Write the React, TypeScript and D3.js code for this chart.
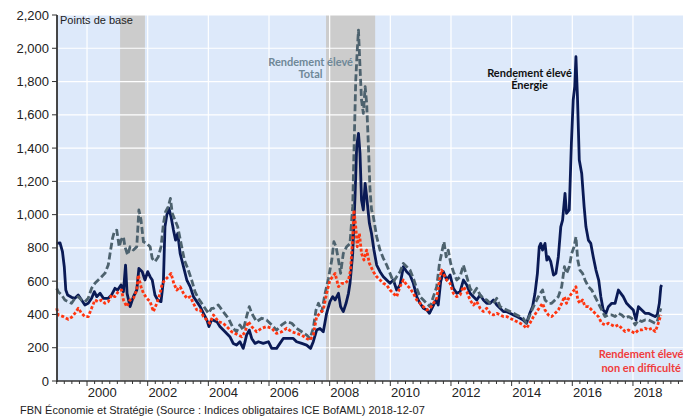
import React from "react";
import * as d3 from "d3";

type Pt = [number, number];

const yTicks = [0, 200, 400, 600, 800, 1000, 1200, 1400, 1600, 1800, 2000, 2200];
const yearLabels = [2000, 2002, 2004, 2006, 2008, 2010, 2012, 2014, 2016, 2018];
const recessions: Pt[] = [
  [2001.09, 2001.91],
  [2007.88, 2009.5],
];

const energy: Pt[] = [
  [1999.0, 827], [1999.11, 830], [1999.19, 777], [1999.25, 687], [1999.3, 547], [1999.36, 517],
  [1999.49, 503], [1999.6, 497], [1999.71, 517], [1999.82, 487], [1999.93, 457], [2000.04, 467],
  [2000.15, 497], [2000.24, 537], [2000.32, 507], [2000.43, 527], [2000.54, 497], [2000.7, 497],
  [2000.81, 517], [2000.92, 557], [2001.01, 547], [2001.12, 577], [2001.2, 537], [2001.27, 697],
  [2001.32, 527], [2001.42, 447], [2001.53, 507], [2001.64, 547], [2001.71, 677], [2001.82, 657],
  [2001.91, 607], [2002.0, 657], [2002.08, 627], [2002.15, 607], [2002.24, 517], [2002.33, 487],
  [2002.44, 477], [2002.52, 607], [2002.57, 927], [2002.63, 997], [2002.7, 1040], [2002.77, 987],
  [2002.85, 907], [2002.92, 847], [2002.99, 887], [2003.07, 767], [2003.18, 687], [2003.29, 607],
  [2003.4, 567], [2003.51, 507], [2003.62, 477], [2003.73, 447], [2003.84, 407], [2003.95, 367],
  [2004.02, 327], [2004.11, 370], [2004.22, 360], [2004.28, 357], [2004.38, 327], [2004.55, 296],
  [2004.71, 266], [2004.82, 226], [2004.93, 216], [2005.04, 236], [2005.15, 196], [2005.21, 236],
  [2005.26, 276], [2005.35, 306], [2005.43, 256], [2005.54, 226], [2005.65, 236], [2005.81, 226],
  [2005.98, 236], [2006.09, 196], [2006.25, 196], [2006.36, 226], [2006.47, 256], [2006.64, 256],
  [2006.8, 256], [2006.91, 236], [2007.08, 226], [2007.24, 216], [2007.37, 196], [2007.46, 236],
  [2007.57, 306], [2007.68, 316], [2007.79, 296], [2007.9, 407], [2008.01, 477], [2008.1, 507],
  [2008.18, 487], [2008.29, 527], [2008.36, 447], [2008.45, 417], [2008.54, 467], [2008.62, 527],
  [2008.67, 587], [2008.76, 767], [2008.84, 1128], [2008.89, 1408], [2008.95, 1488], [2009.0, 1368],
  [2009.05, 1088], [2009.11, 1028], [2009.17, 1188], [2009.22, 1108], [2009.31, 948], [2009.38, 887],
  [2009.46, 787], [2009.55, 697], [2009.66, 657], [2009.77, 627], [2009.88, 607], [2009.99, 587],
  [2010.1, 607], [2010.21, 547], [2010.32, 577], [2010.43, 687], [2010.54, 657], [2010.65, 637],
  [2010.76, 587], [2010.87, 507], [2010.98, 467], [2011.09, 437], [2011.2, 427], [2011.29, 407],
  [2011.4, 447], [2011.51, 487], [2011.58, 457], [2011.66, 597], [2011.75, 657], [2011.86, 607],
  [2011.97, 637], [2012.08, 557], [2012.19, 527], [2012.3, 537], [2012.41, 607], [2012.52, 577],
  [2012.63, 527], [2012.74, 507], [2012.85, 487], [2012.96, 517], [2013.07, 487], [2013.18, 467],
  [2013.29, 467], [2013.4, 487], [2013.51, 457], [2013.62, 437], [2013.73, 417], [2013.84, 417],
  [2013.95, 407], [2014.06, 397], [2014.17, 387], [2014.28, 377], [2014.38, 367], [2014.49, 347],
  [2014.6, 407], [2014.69, 447], [2014.77, 527], [2014.85, 647], [2014.91, 807], [2014.96, 827],
  [2015.02, 787], [2015.1, 827], [2015.16, 727], [2015.21, 747], [2015.29, 717], [2015.38, 637],
  [2015.46, 647], [2015.54, 747], [2015.62, 927], [2015.68, 967], [2015.76, 1128], [2015.81, 1008],
  [2015.9, 1028], [2015.97, 1428], [2016.03, 1689], [2016.08, 1769], [2016.12, 1949], [2016.17, 1709],
  [2016.23, 1328], [2016.31, 1248], [2016.39, 1048], [2016.45, 927], [2016.53, 847], [2016.61, 827],
  [2016.69, 747], [2016.78, 667], [2016.87, 607], [2016.94, 507], [2017.02, 427], [2017.11, 407],
  [2017.19, 447], [2017.3, 467], [2017.41, 467], [2017.52, 547], [2017.6, 527], [2017.68, 507],
  [2017.79, 467], [2017.9, 447], [2018.01, 427], [2018.1, 367], [2018.18, 447], [2018.29, 427],
  [2018.4, 407], [2018.51, 407], [2018.62, 397], [2018.73, 387], [2018.8, 397], [2018.87, 467],
  [2018.92, 567], [2018.95, 577],
];

const total: Pt[] = [
  [1999.0, 557], [1999.05, 537], [1999.16, 517], [1999.27, 487], [1999.38, 477], [1999.49, 467],
  [1999.6, 497], [1999.71, 507], [1999.82, 487], [1999.93, 477], [2000.04, 497], [2000.15, 557],
  [2000.26, 587], [2000.37, 607], [2000.48, 627], [2000.59, 647], [2000.7, 697], [2000.76, 767],
  [2000.84, 857], [2000.9, 897], [2000.98, 907], [2001.06, 807], [2001.12, 847], [2001.2, 867],
  [2001.25, 807], [2001.34, 757], [2001.42, 807], [2001.53, 787], [2001.64, 807], [2001.71, 1028],
  [2001.78, 967], [2001.86, 837], [2001.97, 827], [2002.08, 807], [2002.15, 737], [2002.24, 717],
  [2002.35, 747], [2002.44, 807], [2002.52, 947], [2002.59, 1018], [2002.68, 1048], [2002.75, 1098],
  [2002.81, 1008], [2002.9, 967], [2002.99, 927], [2003.1, 827], [2003.21, 727], [2003.32, 677],
  [2003.45, 607], [2003.56, 537], [2003.67, 497], [2003.78, 467], [2003.89, 437], [2004.0, 407],
  [2004.11, 437], [2004.17, 437], [2004.33, 457], [2004.49, 417], [2004.66, 377], [2004.82, 317],
  [2004.93, 296], [2005.04, 337], [2005.15, 306], [2005.26, 387], [2005.35, 447], [2005.43, 407],
  [2005.59, 357], [2005.76, 377], [2005.92, 367], [2006.09, 337], [2006.25, 306], [2006.42, 337],
  [2006.58, 357], [2006.75, 347], [2006.91, 317], [2007.08, 296], [2007.24, 276], [2007.35, 256],
  [2007.46, 317], [2007.55, 427], [2007.63, 467], [2007.74, 417], [2007.85, 527], [2007.96, 617],
  [2008.07, 727], [2008.14, 837], [2008.21, 807], [2008.29, 727], [2008.36, 647], [2008.45, 767],
  [2008.56, 807], [2008.67, 827], [2008.76, 1048], [2008.8, 1368], [2008.86, 1809], [2008.91, 1989],
  [2008.95, 2109], [2009.0, 1889], [2009.05, 1689], [2009.11, 1609], [2009.17, 1769], [2009.22, 1669],
  [2009.28, 1400], [2009.33, 1150], [2009.38, 1030], [2009.44, 988], [2009.55, 867], [2009.66, 787],
  [2009.77, 737], [2009.88, 697], [2009.99, 647], [2010.1, 597], [2010.21, 627], [2010.32, 657],
  [2010.43, 707], [2010.54, 687], [2010.65, 667], [2010.76, 617], [2010.87, 557], [2010.98, 507],
  [2011.09, 487], [2011.2, 467], [2011.31, 447], [2011.42, 507], [2011.53, 567], [2011.62, 707],
  [2011.69, 767], [2011.77, 837], [2011.84, 747], [2011.91, 787], [2011.99, 707], [2012.08, 657],
  [2012.19, 607], [2012.3, 627], [2012.41, 697], [2012.52, 627], [2012.63, 557], [2012.74, 527],
  [2012.85, 557], [2012.96, 517], [2013.07, 497], [2013.18, 487], [2013.29, 467], [2013.4, 467],
  [2013.51, 497], [2013.62, 447], [2013.73, 437], [2013.84, 427], [2013.95, 417], [2014.06, 407],
  [2014.17, 397], [2014.28, 387], [2014.38, 377], [2014.49, 347], [2014.6, 397], [2014.72, 447],
  [2014.83, 487], [2014.94, 527], [2015.02, 547], [2015.1, 487], [2015.21, 467], [2015.32, 467],
  [2015.43, 487], [2015.54, 507], [2015.65, 567], [2015.74, 687], [2015.81, 647], [2015.9, 687],
  [2015.98, 767], [2016.06, 807], [2016.12, 867], [2016.18, 727], [2016.25, 667], [2016.34, 647],
  [2016.42, 607], [2016.53, 567], [2016.64, 547], [2016.75, 507], [2016.86, 467], [2016.97, 427],
  [2017.08, 387], [2017.19, 397], [2017.3, 397], [2017.41, 387], [2017.52, 407], [2017.63, 397],
  [2017.74, 377], [2017.85, 387], [2017.96, 377], [2018.07, 337], [2018.18, 367], [2018.29, 357],
  [2018.4, 367], [2018.51, 367], [2018.62, 357], [2018.73, 347], [2018.8, 357], [2018.87, 407],
  [2018.92, 437],
];

const nonDistressed: Pt[] = [
  [1999.0, 437], [1999.05, 397], [1999.22, 387], [1999.38, 371], [1999.49, 383], [1999.6, 407],
  [1999.71, 437], [1999.82, 407], [1999.93, 387], [2000.04, 387], [2000.15, 437], [2000.26, 487],
  [2000.37, 477], [2000.48, 487], [2000.59, 467], [2000.7, 477], [2000.81, 517], [2000.92, 507],
  [2001.03, 537], [2001.14, 547], [2001.2, 487], [2001.31, 447], [2001.42, 487], [2001.53, 497],
  [2001.64, 547], [2001.69, 637], [2001.78, 567], [2001.86, 527], [2001.97, 497], [2002.08, 477],
  [2002.19, 417], [2002.3, 467], [2002.41, 527], [2002.48, 587], [2002.57, 607], [2002.68, 627],
  [2002.77, 647], [2002.86, 587], [2002.96, 547], [2003.07, 567], [2003.18, 527], [2003.29, 497],
  [2003.4, 507], [2003.51, 467], [2003.62, 427], [2003.73, 427], [2003.84, 387], [2003.95, 367],
  [2004.05, 347], [2004.17, 397], [2004.33, 357], [2004.49, 347], [2004.66, 317], [2004.77, 296],
  [2004.88, 286], [2004.99, 276], [2005.1, 266], [2005.21, 296], [2005.32, 357], [2005.43, 327],
  [2005.59, 296], [2005.76, 317], [2005.92, 327], [2006.09, 317], [2006.25, 286], [2006.42, 296],
  [2006.58, 317], [2006.75, 296], [2006.91, 286], [2007.08, 276], [2007.24, 256], [2007.35, 246],
  [2007.46, 276], [2007.57, 387], [2007.68, 407], [2007.79, 427], [2007.9, 527], [2008.01, 607],
  [2008.1, 627], [2008.18, 647], [2008.29, 567], [2008.4, 587], [2008.51, 587], [2008.62, 607],
  [2008.69, 667], [2008.76, 867], [2008.8, 1028], [2008.86, 928], [2008.91, 807], [2008.98, 887],
  [2009.05, 767], [2009.13, 727], [2009.22, 787], [2009.31, 707], [2009.44, 657], [2009.55, 627],
  [2009.66, 607], [2009.77, 587], [2009.88, 577], [2009.99, 547], [2010.1, 527], [2010.21, 507],
  [2010.32, 567], [2010.43, 607], [2010.54, 577], [2010.65, 557], [2010.76, 527], [2010.87, 487],
  [2010.98, 467], [2011.09, 447], [2011.2, 427], [2011.31, 437], [2011.42, 467], [2011.53, 497],
  [2011.62, 607], [2011.69, 667], [2011.77, 637], [2011.86, 607], [2011.97, 587], [2012.08, 527],
  [2012.19, 507], [2012.3, 517], [2012.41, 567], [2012.52, 537], [2012.63, 487], [2012.74, 457],
  [2012.85, 477], [2012.96, 437], [2013.07, 417], [2013.18, 437], [2013.29, 407], [2013.4, 397],
  [2013.51, 407], [2013.62, 397], [2013.73, 387], [2013.84, 387], [2013.95, 377], [2014.06, 367],
  [2014.17, 357], [2014.28, 347], [2014.38, 337], [2014.49, 317], [2014.6, 347], [2014.72, 387],
  [2014.83, 417], [2014.94, 447], [2015.02, 467], [2015.1, 427], [2015.21, 397], [2015.32, 387],
  [2015.43, 407], [2015.54, 427], [2015.65, 467], [2015.74, 507], [2015.81, 467], [2015.9, 507],
  [2015.98, 527], [2016.06, 547], [2016.12, 567], [2016.18, 487], [2016.25, 467], [2016.34, 487],
  [2016.42, 447], [2016.53, 447], [2016.64, 427], [2016.75, 407], [2016.86, 387], [2016.97, 347],
  [2017.08, 337], [2017.19, 347], [2017.3, 337], [2017.41, 327], [2017.52, 337], [2017.63, 317],
  [2017.74, 297], [2017.85, 307], [2017.96, 297], [2018.07, 287], [2018.18, 307], [2018.29, 307],
  [2018.4, 317], [2018.51, 307], [2018.62, 317], [2018.73, 297], [2018.8, 327], [2018.87, 367],
  [2018.92, 397],
];

const FONT = "'Liberation Sans', Arial, sans-serif";
const LABEL_FONT = "Lato, 'Open Sans', sans-serif";

export default function App() {
  const W = 694;
  const H = 417;
  const left = 57;
  const right = 683;
  const top = 15;
  const bottom = 381;

  const x = d3.scaleLinear().domain([1999.0, 2019.65]).range([left - 0.3, right]);
  const y = d3.scaleLinear().domain([0, 2200]).range([bottom, top]);
  const line = d3
    .line<Pt>()
    .x((d) => x(d[0]))
    .y((d) => y(d[1]));

  const quarterTicks = d3.range(1999, 2019.6, 0.25);

  return (
    <svg
      width={W}
      height={H}
      style={{ position: "absolute", left: 0, top: 0, background: "#fff" }}
    >
      <rect x={left} y={top} width={right - left} height={bottom - top} fill="#dde9fa" />
      {recessions.map((r, i) => (
        <rect
          key={"rec" + i}
          x={x(r[0])}
          y={top}
          width={x(r[1]) - x(r[0])}
          height={bottom - top}
          fill="#cccccc"
        />
      ))}
      {yTicks.slice(1).map((t) => (
        <line key={"hg" + t} x1={left} x2={right} y1={y(t)} y2={y(t)} stroke="#fff" strokeWidth={1.2} />
      ))}
      {yearLabels.map((yr) => (
        <line key={"vg" + yr} x1={x(yr)} x2={x(yr)} y1={top} y2={bottom} stroke="#fff" strokeWidth={1.2} />
      ))}

      <path d={line(energy) || ""} fill="none" stroke="#0a1a55" strokeWidth={2.8} strokeLinejoin="round" />
      <path
        d={line(total) || ""}
        fill="none"
        stroke="#4d626e"
        strokeWidth={2.8}
        strokeDasharray="7 3"
        strokeLinejoin="round"
      />
      <path
        d={line(nonDistressed) || ""}
        fill="none"
        stroke="#ff3510"
        strokeWidth={2.8}
        strokeDasharray="3 2"
        strokeLinejoin="round"
      />

      {/* axes */}
      <line x1={left} x2={left} y1={top} y2={bottom + 1} stroke="#333" strokeWidth={1.8} />
      <line x1={left} x2={right} y1={bottom} y2={bottom} stroke="#333" strokeWidth={1.6} />
      {yTicks.map((t) => (
        <g key={"yt" + t}>
          <line x1={left - 5} x2={left} y1={y(t)} y2={y(t)} stroke="#333" strokeWidth={1} />
          <text
            x={left - 8}
            y={y(t)}
            dy="0.35em"
            textAnchor="end"
            fontFamily={FONT}
            fontSize={13}
            fill="#222"
          >
            {d3.format(",")(t)}
          </text>
        </g>
      ))}
      {quarterTicks.map((q) => {
        const major = Math.abs(q - Math.round(q)) < 1e-6 && Math.round(q) % 2 === 0;
        return (
          <line
            key={"xt" + q}
            x1={x(q)}
            x2={x(q)}
            y1={bottom}
            y2={bottom + (major ? 5 : 3)}
            stroke="#333"
            strokeWidth={1}
          />
        );
      })}
      {yearLabels.map((yr) => (
        <text
          key={"xl" + yr}
          x={x(yr + 0.5)}
          y={397}
          textAnchor="middle"
          fontFamily={FONT}
          fontSize={13}
          fill="#222"
        >
          {yr}
        </text>
      ))}

      <text x={60} y={24} fontFamily={FONT} fontSize={11} fill="#222">
        Points de base
      </text>

      <g fontFamily={LABEL_FONT} fontWeight="bold" fontSize={11} textAnchor="middle">
        <text x={x(2007.37)} y={66} fill="#6f8898">Rendement élevé</text>
        <text x={x(2007.37)} y={78} fill="#6f8898">Total</text>
        <text x={x(2014.59)} y={77} fill="#111">Rendement élevé</text>
        <text x={x(2014.59)} y={89} fill="#111">Énergie</text>
        <text x={x(2018.27)} y={358} fill="#f03c3c">Rendement élevé</text>
        <text x={x(2018.27)} y={372} fill="#f03c3c">non en difficulté</text>
      </g>

      <text x={20} y={414} fontFamily={FONT} fontSize={11} fill="#222">
        FBN Économie et Stratégie (Source : Indices obligataires  ICE BofAML) 2018-12-07
      </text>
    </svg>
  );
}
